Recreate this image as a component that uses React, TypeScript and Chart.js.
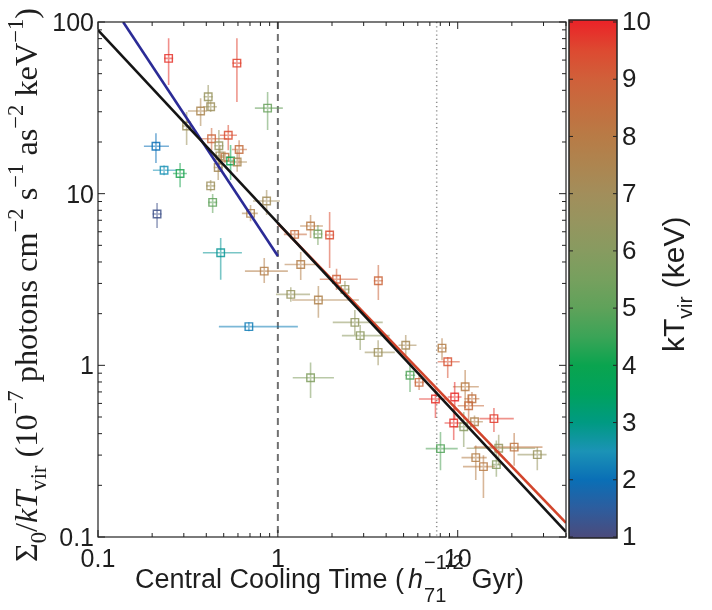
import React, { useEffect, useRef } from 'react';
import { Chart, registerables } from 'chart.js';

Chart.register(...registerables);

// ---- data ----
const kTvir = [9.8, 9.6, 6.6, 6.8, 7.4, 6.8, 5.2, 2.0, 8.8, 9.4, 6.5, 8.5, 8.2, 7.0, 4.0, 7.3, 7.2, 2.5, 4.2, 6.8, 5.0, 1.2, 7.0, 7.5, 2.8, 7.8, 2.2, 8.6, 8.0, 5.5, 9.4, 7.8, 9.0, 6.5, 8.8, 6.5, 7.6, 6.3, 6.2, 6.8, 7.2, 4.8, 8.7, 5.8, 7.8, 9.3, 8.0, 9.8, 9.9, 8.3, 8.6, 9.7, 7.6, 9.8, 6.0, 4.8, 6.5, 8.2, 6.6, 7.8, 6.0, 8.0];
const coolTime = [0.247, 0.592, 0.410, 0.423, 0.372, 0.311, 0.877, 0.210, 0.428, 0.530, 0.470, 0.609, 0.508, 0.476, 0.546, 0.594, 0.466, 0.233, 0.286, 0.423, 0.434, 0.213, 0.866, 0.705, 0.481, 0.840, 0.690, 1.24, 1.52, 1.67, 1.94, 1.34, 2.12, 2.36, 3.62, 1.18, 1.68, 2.68, 2.87, 3.61, 5.14, 5.43, 6.10, 1.52, 8.18, 8.80, 11.0, 7.52, 9.62, 12.0, 11.5, 15.9, 12.4, 9.50, 10.8, 8.02, 16.9, 20.6, 27.7, 12.6, 16.4, 13.9];
const sigmaKT = [61.4, 57.6, 36.7, 32.1, 30.3, 24.8, 31.5, 18.9, 20.9, 21.9, 19.0, 18.1, 16.3, 16.6, 15.5, 15.3, 14.2, 13.7, 13.1, 11.1, 8.90, 7.61, 9.06, 7.68, 4.53, 3.54, 1.68, 5.79, 6.48, 5.82, 5.74, 3.87, 3.17, 2.77, 3.11, 2.59, 2.40, 1.78, 1.49, 1.19, 1.31, 0.875, 0.796, 0.847, 1.26, 1.05, 0.750, 0.637, 0.654, 0.639, 0.582, 0.489, 0.469, 0.461, 0.439, 0.327, 0.329, 0.334, 0.302, 0.290, 0.264, 0.257];
const coolTimeLo = [0.238, 0.575, 0.395, 0.383, 0.316, 0.300, 0.745, 0.180, 0.369, 0.476, 0.453, 0.555, 0.489, 0.458, 0.521, 0.541, 0.453, 0.202, 0.261, 0.410, 0.413, 0.207, 0.727, 0.631, 0.383, 0.656, 0.470, 1.08, 1.33, 1.62, 1.88, 1.09, 1.71, 2.25, 3.45, 0.976, 1.20, 2.02, 2.27, 3.04, 4.69, 5.10, 5.77, 1.21, 7.95, 7.74, 9.40, 6.10, 8.80, 10.9, 10.0, 13.2, 11.2, 8.45, 9.70, 6.64, 11.2, 12.3, 21.5, 10.5, 15.6, 10.7];
const coolTimeHi = [0.257, 0.610, 0.425, 0.458, 0.403, 0.322, 1.066, 0.248, 0.521, 0.592, 0.489, 0.673, 0.541, 0.489, 0.570, 0.673, 0.476, 0.275, 0.312, 0.436, 0.458, 0.219, 1.026, 0.774, 0.631, 1.137, 1.292, 1.45, 1.78, 1.73, 2.00, 1.61, 2.78, 2.47, 3.80, 1.51, 2.82, 3.83, 4.19, 4.47, 5.90, 5.80, 6.50, 2.05, 8.47, 10.26, 13.1, 8.90, 10.5, 13.2, 14.0, 20.5, 13.8, 10.5, 12.0, 10.0, 27.0, 29.6, 31.2, 14.5, 17.3, 16.1];
const sigmaLo = [42.9, 34.2, 30.7, 29.9, 24.8, 19.2, 23.5, 15.1, 17.9, 17.9, 13.4, 14.7, 15.1, 14.7, 12.0, 13.4, 12.0, 12.8, 10.9, 10.3, 7.71, 6.31, 7.50, 6.90, 3.15, 3.02, 1.60, 5.50, 5.51, 5.02, 3.69, 3.14, 2.75, 2.50, 2.40, 2.35, 1.89, 1.50, 1.23, 1.00, 1.15, 0.700, 0.718, 0.645, 1.07, 0.843, 0.564, 0.493, 0.481, 0.580, 0.481, 0.409, 0.430, 0.367, 0.334, 0.245, 0.263, 0.260, 0.245, 0.215, 0.224, 0.169];
const sigmaHi = [80.5, 80.5, 42.9, 34.5, 36.0, 29.9, 39.1, 22.5, 24.1, 25.1, 23.5, 20.5, 17.6, 19.2, 19.2, 17.9, 16.1, 14.6, 15.1, 12.0, 9.95, 8.81, 10.5, 8.60, 5.52, 4.22, 1.76, 6.10, 7.50, 6.56, 7.82, 4.57, 3.65, 3.10, 3.84, 2.85, 2.90, 2.10, 1.72, 1.40, 1.50, 1.03, 0.906, 1.04, 1.44, 1.12, 0.940, 0.748, 0.800, 0.700, 0.671, 0.564, 0.510, 0.564, 0.535, 0.409, 0.394, 0.404, 0.334, 0.341, 0.365, 0.299];

// fit lines (end points)
const blueFitX = [0.138, 1];
const blueFitY = [100, 4.33];
const blackFitX = [0.1, 40];
const blackFitY = [89.7, 0.107];
const redFitX = [1, 40];
const redFitY = [6.71, 0.121];

const dashedLineX = 1;
const dottedLineX = 7.64;

const xMin = 0.1, xMax = 40, yMin = 0.1, yMax = 100;
const xTickValues = [0.1, 1, 10];
const xTickLabels = ['0.1', '1', '10'];
const yTickValues = [0.1, 1, 10, 100];
const yTickLabels = ['0.1', '1', '10', '100'];
const cbTickValues = [1, 2, 3, 4, 5, 6, 7, 8, 9, 10];
const cbTickLabels = ['1', '2', '3', '4', '5', '6', '7', '8', '9', '10'];

// colour map
const cmapValues = [1, 1.5, 2, 2.5, 3, 3.5, 4, 4.5, 5, 5.5, 6, 6.5, 7, 7.5, 8, 8.5, 9, 9.5, 10];
const cmapColors = ['#4b4b7c', '#2d5d9e', '#0a6fb6', '#1b93b6', '#009a82', '#00a25e', '#0aa44f', '#3ba457', '#5fa25a', '#76a05e', '#879b60', '#96955f', '#a28e5b', '#ad8550', '#b87b46', '#c46e3f', '#d0603a', '#dd4a31', '#ea2428'];

const SANS = '"Liberation Sans", Arial, Helvetica, sans-serif';
const SERIF = '"Liberation Serif", "DejaVu Serif", "Times New Roman", serif';

function hexToRgb(h: string): number[] {
  const n = parseInt(h.slice(1), 16);
  return [(n >> 16) & 255, (n >> 8) & 255, n & 255];
}
function colorFor(v: number): number[] {
  if (v <= cmapValues[0]) return hexToRgb(cmapColors[0]);
  for (let i = 1; i < cmapValues.length; i++) {
    if (v <= cmapValues[i]) {
      const t = (v - cmapValues[i - 1]) / (cmapValues[i] - cmapValues[i - 1]);
      const a = hexToRgb(cmapColors[i - 1]);
      const b = hexToRgb(cmapColors[i]);
      return a.map((c, k) => Math.round(c + (b[k] - c) * t));
    }
  }
  return hexToRgb(cmapColors[cmapColors.length - 1]);
}
const rgba = (c: number[], a: number) => `rgba(${c[0]},${c[1]},${c[2]},${a})`;

type Seg = { t: string; k: 'n' | 'i' | 'sub' | 'sup' };

function segFont(k: string, size: number, family: string) {
  const s = k === 'sub' || k === 'sup' ? size * 0.7 : size;
  return `${k === 'i' ? 'italic ' : ''}${s}px ${family}`;
}

function drawRich(ctx: CanvasRenderingContext2D, segs: Seg[], x: number, y: number, size: number, family: string, targetLen?: number) {
  let s = size;
  if (targetLen) {
    let total = 0;
    segs.forEach((g) => { ctx.font = segFont(g.k, s, family); total += ctx.measureText(g.t).width; });
    s = s * targetLen / total;
  }
  let cx = x;
  segs.forEach((g) => {
    ctx.font = segFont(g.k, s, family);
    const dy = g.k === 'sub' ? s * 0.28 : g.k === 'sup' ? -s * 0.42 : 0;
    ctx.fillText(g.t, cx, y + dy);
    cx += ctx.measureText(g.t).width;
  });
}

const yTitle: Seg[] = [
  { t: 'Σ', k: 'n' }, { t: '0', k: 'sub' }, { t: '/', k: 'n' }, { t: 'kT', k: 'i' }, { t: 'vir', k: 'sub' },
  { t: ' (10', k: 'n' }, { t: '−7', k: 'sup' }, { t: ' photons cm', k: 'n' }, { t: '−2', k: 'sup' },
  { t: ' s', k: 'n' }, { t: '−1', k: 'sup' }, { t: ' as', k: 'n' }, { t: '−2', k: 'sup' },
  { t: ' keV', k: 'n' }, { t: '−1', k: 'sup' }, { t: ')', k: 'n' },
];

const decorPlugin = {
  id: 'decor',
  beforeDatasetsDraw(chart: any) {
    const { ctx, chartArea: a, scales } = chart;
    const xs = scales.x, ys = scales.y;
    ctx.save();
    ctx.beginPath();
    ctx.rect(a.left, a.top, a.right - a.left, a.bottom - a.top);
    ctx.clip();
    // reference lines
    ctx.lineWidth = 2;
    ctx.strokeStyle = '#707070';
    ctx.setLineDash([7, 5]);
    let px = xs.getPixelForValue(dashedLineX);
    ctx.beginPath(); ctx.moveTo(px, a.top); ctx.lineTo(px, a.bottom); ctx.stroke();
    ctx.lineWidth = 1.5;
    ctx.strokeStyle = '#909090';
    ctx.setLineDash([1.2, 3]);
    px = xs.getPixelForValue(dottedLineX);
    ctx.beginPath(); ctx.moveTo(px, a.top); ctx.lineTo(px, a.bottom); ctx.stroke();
    ctx.setLineDash([]);
    // error bars
    ctx.lineWidth = 1.6;
    for (let i = 0; i < coolTime.length; i++) {
      const c = colorFor(kTvir[i]);
      ctx.strokeStyle = rgba(c, 0.55);
      const x = xs.getPixelForValue(coolTime[i]);
      const y = ys.getPixelForValue(sigmaKT[i]);
      const x0 = Math.min(xs.getPixelForValue(coolTimeLo[i]), x - 4.5);
      const x1 = Math.max(xs.getPixelForValue(coolTimeHi[i]), x + 4.5);
      const y0 = Math.max(ys.getPixelForValue(sigmaLo[i]), y + 4.5);
      const y1 = Math.min(ys.getPixelForValue(sigmaHi[i]), y - 4.5);
      ctx.beginPath();
      ctx.moveTo(x0, y); ctx.lineTo(x1, y);
      ctx.moveTo(x, y0); ctx.lineTo(x, y1);
      ctx.stroke();
    }
    ctx.restore();
  },
  afterDraw(chart: any) {
    const { ctx, chartArea: a, scales } = chart;
    const xs = scales.x, ys = scales.y, cb = scales.cb;
    ctx.save();
    // axes box
    ctx.strokeStyle = '#222';
    ctx.lineWidth = 1.2;
    ctx.strokeRect(a.left, a.top, a.right - a.left, a.bottom - a.top);
    // inward ticks
    ctx.lineWidth = 1;
    ctx.beginPath();
    for (let d = -1; d <= 1; d++) {
      for (let m = 1; m <= 9; m++) {
        const v = m * Math.pow(10, d);
        if (v < xMin - 1e-9 || v > xMax + 1e-9) continue;
        const p = xs.getPixelForValue(v);
        const L = m === 1 ? 7 : 4;
        ctx.moveTo(p, a.bottom); ctx.lineTo(p, a.bottom - L);
        ctx.moveTo(p, a.top); ctx.lineTo(p, a.top + L);
      }
    }
    for (let d = -1; d <= 2; d++) {
      for (let m = 1; m <= 9; m++) {
        const v = m * Math.pow(10, d);
        if (v < yMin - 1e-9 || v > yMax + 1e-9) continue;
        const p = ys.getPixelForValue(v);
        const L = m === 1 ? 7 : 4;
        ctx.moveTo(a.left, p); ctx.lineTo(a.left + L, p);
        ctx.moveTo(a.right, p); ctx.lineTo(a.right - L, p);
      }
    }
    ctx.stroke();

    // tick labels
    ctx.fillStyle = '#1e1e1e';
    ctx.font = `25px ${SANS}`;
    ctx.textAlign = 'center';
    ctx.textBaseline = 'alphabetic';
    xTickValues.forEach((v, i) => ctx.fillText(xTickLabels[i], xs.getPixelForValue(v), 567));
    ctx.textAlign = 'right';
    ctx.textBaseline = 'middle';
    yTickValues.forEach((v, i) => ctx.fillText(yTickLabels[i], a.left - 4, ys.getPixelForValue(v) + 2));

    // colour bar
    const cbL = a.right + 3, cbR = a.right + 51;
    const top = cb.getPixelForValue(10), bot = cb.getPixelForValue(1);
    const g = ctx.createLinearGradient(0, bot, 0, top);
    cmapValues.forEach((v, i) => g.addColorStop((v - 1) / 9, cmapColors[i]));
    ctx.fillStyle = g;
    ctx.fillRect(cbL, top - 2, cbR - cbL, bot - top + 3);
    ctx.strokeStyle = '#222';
    ctx.lineWidth = 1.5;
    ctx.strokeRect(cbL, top - 2, cbR - cbL, bot - top + 3);
    ctx.lineWidth = 1;
    ctx.beginPath();
    cbTickValues.forEach((v) => {
      const p = cb.getPixelForValue(v);
      ctx.moveTo(cbL, p); ctx.lineTo(cbL + 4, p);
      ctx.moveTo(cbR, p); ctx.lineTo(cbR - 4, p);
    });
    ctx.stroke();
    ctx.fillStyle = '#1e1e1e';
    ctx.font = `26px ${SANS}`;
    ctx.textAlign = 'left';
    ctx.textBaseline = 'middle';
    cbTickValues.forEach((v, i) => ctx.fillText(cbTickLabels[i], cbR + 5, cb.getPixelForValue(v) + 1));

    // colour bar title (rotated)
    ctx.save();
    ctx.translate(684, 352);
    ctx.rotate(-Math.PI / 2);
    ctx.textAlign = 'left';
    ctx.textBaseline = 'alphabetic';
    drawRich(ctx, [{ t: 'kT', k: 'n' }, { t: 'vir', k: 'sub' }, { t: ' (keV)', k: 'n' }], 0, 0, 30, SANS);
    ctx.restore();

    // x title
    ctx.textAlign = 'left';
    ctx.textBaseline = 'alphabetic';
    ctx.font = `27px ${SANS}`;
    const t1 = 'Central Cooling Time (';
    ctx.fillText(t1, 135, 588);
    let cx = 135 + ctx.measureText(t1).width + 4;
    ctx.font = `italic 27px ${SANS}`;
    ctx.fillText('h', cx, 588);
    cx += ctx.measureText('h').width + 1;
    ctx.font = `20px ${SANS}`;
    ctx.fillText('−1/2', cx, 569);
    ctx.fillText('71', cx, 602);
    cx += ctx.measureText('−1/2').width + 8;
    ctx.font = `27px ${SANS}`;
    ctx.fillText('Gyr)', cx, 588);

    // y title (rotated, serif)
    ctx.save();
    ctx.translate(37, 562);
    ctx.rotate(-Math.PI / 2);
    drawRich(ctx, yTitle, 0, 0, 24, SERIF, 554);
    ctx.restore();

    ctx.restore();
  },
};

export default function App() {
  const ref = useRef<HTMLCanvasElement | null>(null);
  useEffect(() => {
    if (!ref.current) return;
    const line = (xv: number[], yv: number[], color: string, order: number) => ({
      type: 'line' as const,
      data: xv.map((x, i) => ({ x, y: yv[i] })),
      borderColor: color,
      borderWidth: 2.6,
      pointRadius: 0,
      showLine: true,
      fill: false,
      order,
    });
    const chart = new Chart(ref.current, {
      type: 'scatter',
      data: {
        datasets: [
          line(blackFitX, blackFitY, '#141414', 0) as any,
          line(redFitX, redFitY, '#d2452c', 1) as any,
          line(blueFitX, blueFitY, '#2b2b96', 2) as any,
          {
            type: 'scatter',
            data: coolTime.map((x, i) => ({ x, y: sigmaKT[i] })),
            pointStyle: 'rect',
            pointRadius: 5.3,
            pointBorderWidth: 1.4,
            pointBackgroundColor: 'rgba(0,0,0,0)',
            pointBorderColor: kTvir.map((v) => rgba(colorFor(v), 0.85)),
            order: 3,
          } as any,
        ],
      },
      options: {
        responsive: false,
        animation: false,
        events: [],
        layout: { padding: { left: 98, right: 146, top: 22, bottom: 73 } },
        plugins: { legend: { display: false }, tooltip: { enabled: false } },
        scales: {
          x: { type: 'logarithmic', min: xMin, max: xMax, display: false },
          y: { type: 'logarithmic', min: yMin, max: yMax, display: false },
          cb: { type: 'linear', axis: 'y', position: 'right', min: 1, max: 10, display: false },
        } as any,
      },
      plugins: [decorPlugin],
    });
    return () => chart.destroy();
  }, []);
  return (
    <div style={{ position: 'absolute', left: 0, top: 0, width: 712, height: 610, background: '#fff' }}>
      <canvas ref={ref} width={712} height={610} style={{ display: 'block' }} />
    </div>
  );
}
